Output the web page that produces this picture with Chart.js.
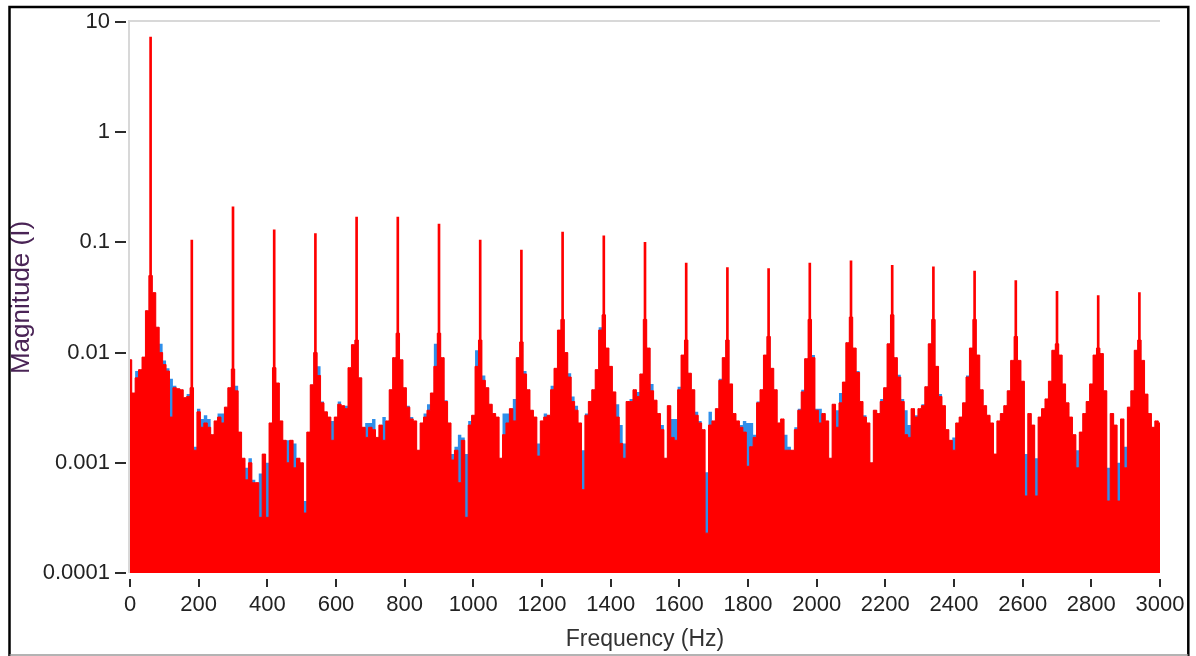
<!DOCTYPE html>
<html>
<head>
<meta charset="utf-8">
<title>Spektrum</title>
<script src="https://cdn.jsdelivr.net/npm/chart.js@4.4.1/dist/chart.umd.min.js"></script>
<style>
    html, body { margin: 0; padding: 0; background: #fff; overflow: hidden; }
    #wrap { position: relative; width: 1196px; height: 656px; }
</style>
</head>
<body>
<div id="wrap"><canvas id="spektrum"></canvas></div>
<script>
// 1. Data, 10 Hz bins starting at 0 Hz
const binHz = 10;

const magRed = [
    0.0086, 0.0043, 0.0059, 0.0070, 0.0091, 0.024, 0.05, 0.035, 0.017, 0.010,
    0.0078, 0.0068, 0.0026, 0.0048, 0.0047, 0.0046, 0.0039, 0.0040, 0.0048, 0.0013,
    0.0029, 0.0021, 0.0023, 0.0021, 0.0018, 0.0024, 0.0026, 0.0023, 0.0032, 0.0048,
    0.0071, 0.0045, 0.0019, 0.0011, 0.0007, 0.0010, 0.00066, 0.00066, 0.00032, 0.0012,
    0.00032, 0.0023, 0.0073, 0.0053, 0.0024, 0.0016, 0.0010, 0.0016, 0.0009, 0.0011,
    0.0010, 0.00035, 0.0019, 0.0051, 0.010, 0.0062, 0.0035, 0.0029, 0.0026, 0.0016,
    0.0026, 0.0034, 0.0033, 0.0031, 0.0073, 0.0118, 0.013, 0.0059, 0.0021, 0.0017,
    0.0021, 0.0020, 0.0017, 0.0022, 0.0016, 0.0024, 0.0046, 0.009, 0.015, 0.0086,
    0.0048, 0.0032, 0.0025, 0.0024, 0.0013, 0.0023, 0.0026, 0.0030, 0.0043, 0.0075,
    0.015, 0.009, 0.0036, 0.0023, 0.00106, 0.0013, 0.00066, 0.0016, 0.00032, 0.0022,
    0.0027, 0.0075, 0.013, 0.0056, 0.0048, 0.0034, 0.0028, 0.0026, 0.0011, 0.0018,
    0.0023, 0.0031, 0.0024, 0.009, 0.0125, 0.0064, 0.0046, 0.0030, 0.0026, 0.00115,
    0.0024, 0.0026, 0.0027, 0.0046, 0.0072, 0.016, 0.020, 0.010, 0.006, 0.0036,
    0.0030, 0.0023, 0.00057, 0.0027, 0.0036, 0.0046, 0.007, 0.016, 0.022, 0.011,
    0.0075, 0.0044, 0.0026, 0.0015, 0.0011, 0.0036, 0.0036, 0.0046, 0.0040, 0.0064,
    0.020, 0.011, 0.0045, 0.0037, 0.0028, 0.0020, 0.0011, 0.0033, 0.0017, 0.0016,
    0.0046, 0.0095, 0.013, 0.0065, 0.0046, 0.0027, 0.0023, 0.0020, 0.00023, 0.0022,
    0.0024, 0.0031, 0.0056, 0.009, 0.013, 0.0052, 0.0028, 0.0024, 0.0021, 0.0019,
    0.00093, 0.0014, 0.0017, 0.0035, 0.0046, 0.0095, 0.014, 0.0072, 0.0046, 0.0023,
    0.0025, 0.0013, 0.0013, 0.0013, 0.0020, 0.0030, 0.0044, 0.0088, 0.020, 0.009,
    0.0030, 0.0023, 0.0028, 0.0024, 0.0011, 0.0034, 0.0021, 0.0035, 0.0054, 0.0123,
    0.021, 0.011, 0.0066, 0.0036, 0.0026, 0.0023, 0.0010, 0.0030, 0.0028, 0.0036,
    0.0048, 0.012, 0.022, 0.009, 0.006, 0.0036, 0.0018, 0.0017, 0.0031, 0.0026,
    0.0031, 0.0033, 0.0049, 0.012, 0.020, 0.0075, 0.0040, 0.0033, 0.0020, 0.0016,
    0.0013, 0.0023, 0.0026, 0.0035, 0.006, 0.011, 0.020, 0.0095, 0.0046, 0.0033,
    0.0027, 0.0023, 0.0012, 0.0024, 0.0028, 0.0033, 0.0045, 0.0085, 0.014, 0.0085,
    0.0055, 0.0005, 0.0028, 0.0022, 0.0005, 0.0026, 0.0031, 0.0038, 0.0055, 0.0105,
    0.012, 0.0095, 0.0052, 0.0035, 0.0026, 0.0018, 0.0009, 0.0019, 0.0028, 0.0036,
    0.0052, 0.0095, 0.011, 0.0098, 0.0045, 0.00045, 0.0028, 0.0022, 0.00045, 0.0025,
    0.0009, 0.0032, 0.0045, 0.0105, 0.013, 0.0085, 0.0042, 0.0028, 0.0021, 0.0024,
    0.0023
];

// Harmonic spikes (thin lines)
const peakHz = [60, 180, 300, 420, 540, 660, 780, 900, 1020, 1140, 1260, 1380, 1500,
    1620, 1740, 1860, 1980, 2100, 2220, 2340, 2460, 2580, 2700, 2820, 2940];
const peakMag = [7.3, 0.105, 0.21, 0.13, 0.12, 0.17, 0.17, 0.147, 0.105, 0.085, 0.124, 0.115, 0.10,
    0.065, 0.059, 0.058, 0.065, 0.068, 0.062, 0.06, 0.055, 0.045, 0.036, 0.033, 0.035];

// Blue trace: only the bins where it shows above the red one
const blueHz = [20, 90, 100, 110, 120, 130, 170, 190, 200, 210, 220, 230, 260, 270, 310,
    340, 350, 360, 380, 400, 460, 480, 510, 550, 560, 580, 590, 610, 630, 640,
    690, 700, 710, 740, 810, 820, 860, 870, 890, 920, 940, 950, 960, 970, 980, 990,
    1010, 1030, 1090, 1100, 1120, 1150, 1190, 1210, 1230, 1280, 1290, 1300, 1320, 1330,
    1370, 1420, 1430, 1440, 1460, 1480, 1520, 1550, 1580, 1590, 1600, 1650, 1660, 1680,
    1690, 1720, 1780, 1790, 1800, 1810, 1820, 1830, 1910, 1920, 1940, 1950, 1960, 1990,
    2000, 2010, 2060, 2070, 2120, 2140, 2190, 2240, 2250, 2260, 2270, 2290, 2310, 2360,
    2400, 2440, 2610, 2640, 2760, 2850, 2880, 2900];
const blueMag = [0.0068, 0.012, 0.0085, 0.0072, 0.0058, 0.0050, 0.0042, 0.0014, 0.0031, 0.0025, 0.0027, 0.0025, 0.0028, 0.0028, 0.0050,
    0.0009, 0.0011, 0.0007, 0.0008, 0.0010, 0.0016, 0.0015, 0.00045, 0.0075, 0.0036, 0.0024, 0.0024, 0.0036, 0.0033, 0.0065,
    0.0023, 0.0023, 0.0025, 0.0026, 0.0033, 0.0026, 0.0028, 0.0034, 0.012, 0.0037, 0.0012, 0.0014, 0.0018, 0.0017, 0.0012, 0.0024,
    0.0105, 0.0062, 0.0028, 0.0028, 0.0038, 0.0068, 0.0015, 0.0028, 0.0050, 0.0065, 0.0040, 0.0033, 0.0013, 0.0028,
    0.017, 0.0034, 0.0022, 0.0015, 0.0038, 0.0044, 0.0052, 0.0022, 0.0025, 0.0025, 0.0049, 0.0029, 0.0024, 0.00082,
    0.0029, 0.0058, 0.0022, 0.0024, 0.0023, 0.0023, 0.0018, 0.0036, 0.0018, 0.0014, 0.0021, 0.0031, 0.0046, 0.0095,
    0.0031, 0.0031, 0.0030, 0.0043, 0.0068, 0.0027, 0.0038, 0.0063, 0.0038, 0.0030, 0.0022, 0.0027, 0.0034, 0.0042,
    0.0017, 0.0062, 0.0012, 0.0011, 0.0013, 0.0009, 0.0010, 0.0014];

// Axis ticks
const xTickVals = [0, 200, 400, 600, 800, 1000, 1200, 1400, 1600, 1800, 2000, 2200, 2400, 2600, 2800, 3000];
const yTickVals = [10, 1, 0.1, 0.01, 0.001, 0.0001];
const yTickText = ['10', '1', '0.1', '0.01', '0.001', '0.0001'];

// 2. Build datasets
const redData = magRed.map((v, i) => ({ x: i * binHz, y: v }));
const blueData = magRed.map((v, i) => ({ x: i * binHz, y: v }));
blueHz.forEach((f, j) => { blueData[Math.round(f / binHz)].y = blueMag[j]; });
const peakData = peakHz.map((f, j) => ({ x: f, y: peakMag[j] }));

const sans = "'Liberation Sans', Arial, sans-serif";
const tickFont = { family: sans, size: 22 };

// 3. Frame, plot border and tick marks
const rahmen = {
    id: 'rahmen',
    beforeDatasetsDraw(chart) {
        const { ctx, chartArea: a } = chart;
        ctx.save();
        ctx.strokeStyle = '#d8d8d8';
        ctx.lineWidth = 2;
        ctx.beginPath();
        ctx.moveTo(a.left - 1, a.bottom);
        ctx.lineTo(a.left - 1, a.top - 1);
        ctx.lineTo(a.right, a.top - 1);
        ctx.stroke();
        ctx.restore();
    },
    afterDraw(chart) {
        const { ctx, chartArea: a, scales } = chart;
        ctx.save();
        ctx.strokeStyle = '#2b2b2b';
        ctx.lineWidth = 2;
        scales.y.ticks.forEach(t => {
            const py = Math.round(scales.y.getPixelForValue(t.value));
            ctx.beginPath();
            ctx.moveTo(a.left - 15, py);
            ctx.lineTo(a.left - 4, py);
            ctx.stroke();
        });
        scales.x.ticks.forEach(t => {
            const px = Math.round(scales.x.getPixelForValue(t.value));
            ctx.beginPath();
            ctx.moveTo(px, a.bottom + 6);
            ctx.lineTo(px, a.bottom + 14);
            ctx.stroke();
        });
        // outer frame
        ctx.strokeStyle = '#000';
        ctx.lineWidth = 2.5;
        ctx.beginPath();
        ctx.moveTo(9.5, chart.height);
        ctx.lineTo(9.5, 7);
        ctx.lineTo(1188.3, 7);
        ctx.lineTo(1188.3, chart.height);
        ctx.stroke();
        ctx.strokeStyle = '#9a9a9a';
        ctx.lineWidth = 1.5;
        ctx.beginPath();
        ctx.moveTo(9.5, 655);
        ctx.lineTo(1188.3, 655);
        ctx.stroke();
        ctx.restore();
    }
};

// 4. Chart
new Chart(document.getElementById('spektrum'), {
    type: 'line',
    data: {
        datasets: [
            {
                type: 'bar',
                label: 'Peaks',
                data: peakData,
                backgroundColor: '#ff0000',
                barThickness: 2,
                grouped: false
            },
            {
                label: 'Magnitude',
                data: redData,
                stepped: 'middle',
                fill: 'start',
                backgroundColor: '#ff0000',
                borderColor: '#ff0000',
                borderWidth: 1,
                pointRadius: 0
            },
            {
                label: 'Magnitude max',
                data: blueData,
                stepped: 'middle',
                fill: 'start',
                backgroundColor: '#2f8fea',
                borderColor: 'transparent',
                borderWidth: 1,
                pointRadius: 0
            }
        ]
    },
    options: {
        responsive: true,
        maintainAspectRatio: false,
        devicePixelRatio: 1,
        animation: false,
        layout: { padding: { left: 0, right: 36, top: 22, bottom: 0 } },
        plugins: {
            legend: { display: false },
            tooltip: { enabled: false }
        },
        scales: {
            x: {
                type: 'linear',
                min: 0,
                max: 3000,
                offset: false,
                afterBuildTicks: s => { s.ticks = xTickVals.map(v => ({ value: v })); },
                afterFit: s => { s.height = 83; s.paddingLeft = 0; s.paddingRight = 0; },
                ticks: {
                    font: tickFont,
                    color: '#222',
                    padding: 19,
                    maxRotation: 0,
                    autoSkip: false,
                    callback: v => String(v)
                },
                grid: { display: false, drawTicks: false, offset: false },
                border: { display: false },
                title: {
                    display: true,
                    text: 'Frequency (Hz)',
                    font: { family: sans, size: 23 },
                    color: '#333',
                    padding: { top: 0, bottom: 3 }
                }
            },
            y: {
                type: 'logarithmic',
                min: 0.0001,
                max: 10,
                beginAtZero: false,
                afterBuildTicks: s => { s.ticks = yTickVals.map(v => ({ value: v })); },
                afterFit: s => { s.width = 130; s.paddingTop = 0; s.paddingBottom = 0; },
                ticks: {
                    font: tickFont,
                    color: '#222',
                    padding: 20,
                    callback: v => yTickText[yTickVals.indexOf(v)]
                },
                grid: { display: false, drawTicks: false },
                border: { display: false },
                title: {
                    display: true,
                    text: 'Magnitude (I)',
                    font: { family: sans, size: 26 },
                    color: '#4a2456',
                    padding: { top: 6, bottom: 0 }
                }
            }
        }
    },
    plugins: [rahmen]
});
</script>
</body>
</html>
